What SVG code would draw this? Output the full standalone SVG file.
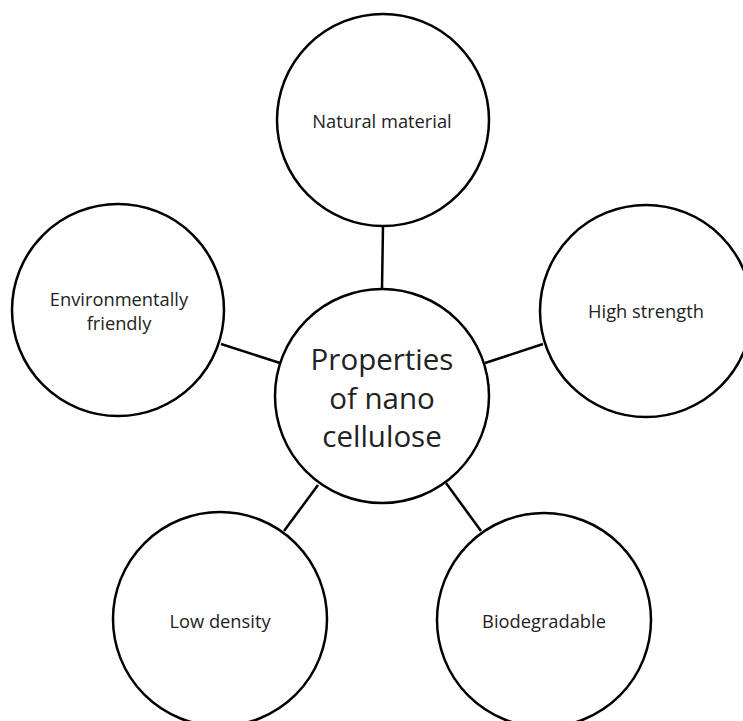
<svg xmlns="http://www.w3.org/2000/svg" width="743" height="721" viewBox="0 0 743 721">
<style>
.node circle{fill:#fff;stroke:#000;stroke-width:2.5}
.lbl{font-family:"Open Sans","Liberation Sans",sans-serif;font-size:18.3px;fill:#222;text-anchor:middle;dominant-baseline:central}
.big{font-family:"Open Sans","Liberation Sans",sans-serif;font-size:29.5px;fill:#222;text-anchor:middle;dominant-baseline:central}
#connectors line{stroke:#000;stroke-width:2.5}
</style>
<rect width="743" height="721" fill="#fff"/>
<g id="connectors">
<line x1="383" y1="226" x2="382" y2="289"/>
<line x1="221" y1="344" x2="280" y2="363"/>
<line x1="485" y1="363" x2="543" y2="344"/>
<line x1="318" y1="485" x2="284" y2="531"/>
<line x1="446" y1="483" x2="481" y2="531"/>
</g>
<g id="center" class="node"><circle cx="382" cy="396" r="107"/>
<text class="big" x="382" y="358">Properties</text>
<text class="big" x="382" y="397">of nano</text>
<text class="big" x="382" y="435">cellulose</text></g>
<g id="natural" class="node"><circle cx="383" cy="120" r="106"/><text class="lbl" x="382" y="120">Natural material</text></g>
<g id="env" class="node"><circle cx="118" cy="310" r="106"/><text class="lbl" x="119" y="298">Environmentally</text><text class="lbl" x="119" y="322">friendly</text></g>
<g id="strength" class="node"><circle cx="646" cy="311" r="106"/><text class="lbl" x="646" y="310">High strength</text></g>
<g id="lowdensity" class="node"><circle cx="220" cy="619" r="107"/><text class="lbl" x="220" y="620">Low density</text></g>
<g id="biodeg" class="node"><circle cx="544" cy="620" r="107"/><text class="lbl" x="544" y="620">Biodegradable</text></g>
</svg>
